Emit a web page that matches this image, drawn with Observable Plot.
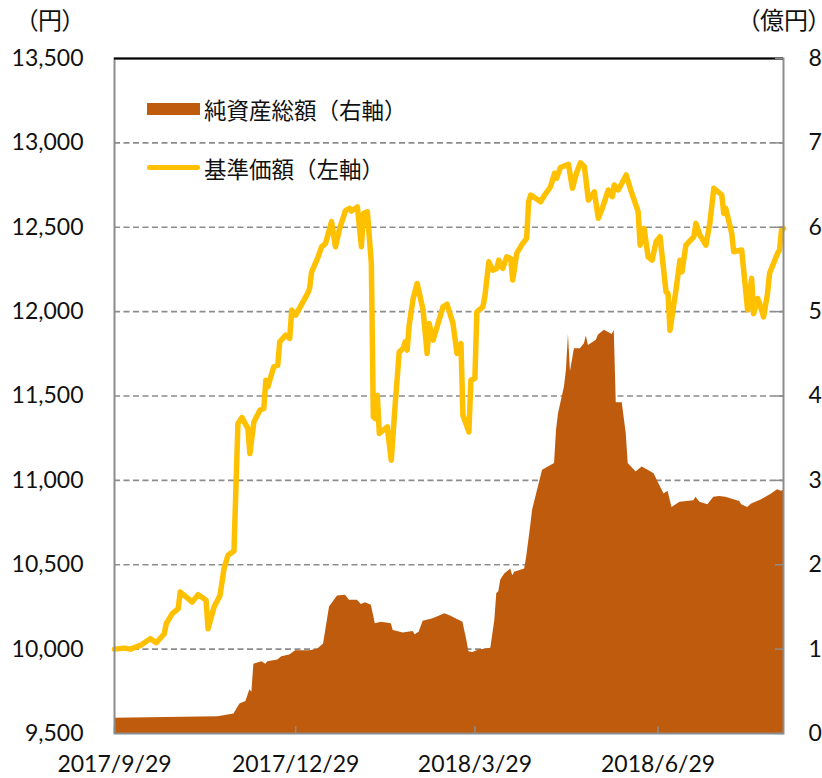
<!DOCTYPE html>
<html>
<head>
<meta charset="utf-8">
<script src="https://cdn.jsdelivr.net/npm/d3@7"></script>
<script src="https://cdn.jsdelivr.net/npm/@observablehq/plot@0.6"></script>
<style>
  html, body { margin: 0; padding: 0; background: #fff; }
  #wrap { position: relative; width: 822px; height: 778px; overflow: hidden; }
  .jp { position: absolute; font-family: "Noto Sans CJK JP", sans-serif; color: #111; white-space: nowrap; }
  .unit { font-feature-settings: "palt" 1; }
  .sw { position: absolute; }
</style>
</head>
<body>
<div id="wrap"></div>
<script>
// ---- data ----
const navDates = ["2017-09-29","2017-10-04","2017-10-07","2017-10-12","2017-10-17","2017-10-20","2017-10-24","2017-10-25","2017-10-28","2017-10-31",
"2017-11-01","2017-11-05","2017-11-07","2017-11-10","2017-11-14","2017-11-15","2017-11-18","2017-11-21","2017-11-23","2017-11-25",
"2017-11-28","2017-11-30","2017-12-02","2017-12-05","2017-12-06","2017-12-08","2017-12-11","2017-12-13","2017-12-14","2017-12-15",
"2017-12-18","2017-12-20","2017-12-21","2017-12-24","2017-12-26","2017-12-27","2017-12-29","2018-01-04","2018-01-05","2018-01-06",
"2018-01-09","2018-01-11","2018-01-13","2018-01-16","2018-01-18","2018-01-20","2018-01-23","2018-01-25","2018-01-26","2018-01-29",
"2018-01-31","2018-02-01","2018-02-03","2018-02-05","2018-02-06","2018-02-07","2018-02-08","2018-02-09","2018-02-12","2018-02-13",
"2018-02-15","2018-02-17","2018-02-19","2018-02-21","2018-02-22","2018-02-23","2018-02-24","2018-02-26","2018-02-28","2018-03-03",
"2018-03-05","2018-03-06","2018-03-08","2018-03-10","2018-03-13","2018-03-15","2018-03-18","2018-03-20","2018-03-22","2018-03-23",
"2018-03-26","2018-03-27","2018-03-29","2018-03-30","2018-04-02","2018-04-03","2018-04-05","2018-04-07","2018-04-09","2018-04-10",
"2018-04-12","2018-04-14","2018-04-16","2018-04-17","2018-04-19","2018-04-22","2018-04-24","2018-04-25","2018-04-26","2018-05-01",
"2018-05-03","2018-05-06","2018-05-08","2018-05-09","2018-05-11","2018-05-14","2018-05-15","2018-05-17","2018-05-19","2018-05-21",
"2018-05-23","2018-05-25","2018-05-28","2018-05-30","2018-06-01","2018-06-04","2018-06-06","2018-06-07","2018-06-09","2018-06-13",
"2018-06-15","2018-06-19","2018-06-20","2018-06-22","2018-06-24","2018-06-26","2018-06-28","2018-06-30","2018-07-03","2018-07-04",
"2018-07-05","2018-07-08","2018-07-10","2018-07-11","2018-07-13","2018-07-17","2018-07-18","2018-07-20","2018-07-23","2018-07-25",
"2018-07-27","2018-07-31","2018-08-01","2018-08-02","2018-08-05","2018-08-06","2018-08-10","2018-08-11","2018-08-13","2018-08-15",
"2018-08-16","2018-08-18","2018-08-19","2018-08-21","2018-08-23","2018-08-24","2018-08-28","2018-08-29","2018-08-30","2018-08-31"];
const navValues = [10000,10006,10000,10022,10062,10038,10091,10151,10210,10240,
10338,10299,10279,10323,10289,10121,10249,10318,10477,10556,
10581,11337,11372,11307,11159,11346,11416,11426,11594,11554,
11673,11683,11821,11861,11841,12009,11979,12108,12138,12236,
12315,12384,12404,12533,12384,12489,12599,12612,12596,12620,
12384,12582,12592,12286,11376,11366,11505,11278,11307,11317,
11119,11455,11761,11782,11821,11772,11920,12078,12167,12009,
11752,11930,11831,11910,12028,12044,11930,11752,11811,11386,
11287,11594,11604,11999,12028,12088,12295,12246,12256,12305,
12256,12325,12315,12187,12345,12404,12434,12651,12691,12651,
12691,12740,12820,12790,12854,12869,12873,12731,12820,12882,
12859,12661,12710,12553,12612,12721,12681,12750,12721,12810,
12731,12592,12394,12493,12325,12305,12414,12444,12117,12108,
11890,12127,12305,12236,12394,12444,12523,12454,12394,12523,
12731,12691,12582,12612,12464,12355,12365,12246,12009,12197,
11989,12078,12049,11969,12108,12227,12345,12365,12483,12493];

const assetDates = ["2017-09-29","2017-11-20","2017-11-28","2017-12-01","2017-12-04","2017-12-06","2017-12-07","2017-12-08","2017-12-12","2017-12-14",
"2017-12-15","2017-12-20","2017-12-22","2017-12-26","2017-12-29","2018-01-05","2018-01-09","2018-01-12","2018-01-15","2018-01-19",
"2018-01-23","2018-01-25","2018-01-29","2018-01-31","2018-02-02","2018-02-05","2018-02-07","2018-02-10","2018-02-15","2018-02-16",
"2018-02-21","2018-02-26","2018-02-27","2018-03-01","2018-03-03","2018-03-08","2018-03-14","2018-03-17","2018-03-23","2018-03-25",
"2018-03-26","2018-03-28","2018-03-31","2018-04-06","2018-04-08","2018-04-09","2018-04-10","2018-04-11","2018-04-13","2018-04-16",
"2018-04-17","2018-04-18","2018-04-23","2018-04-24","2018-04-26","2018-04-27","2018-04-29","2018-05-02","2018-05-08","2018-05-09",
"2018-05-10","2018-05-13","2018-05-14","2018-05-15","2018-05-16","2018-05-18","2018-05-21","2018-05-23","2018-05-24","2018-05-25",
"2018-05-29","2018-05-30","2018-06-02","2018-06-06","2018-06-07","2018-06-08","2018-06-11","2018-06-13","2018-06-14","2018-06-18",
"2018-06-19","2018-06-21","2018-06-24","2018-06-27","2018-06-29","2018-07-02","2018-07-04","2018-07-06","2018-07-10","2018-07-17",
"2018-07-18","2018-07-20","2018-07-24","2018-07-27","2018-07-30","2018-08-02","2018-08-09","2018-08-10","2018-08-13","2018-08-15",
"2018-08-20","2018-08-25","2018-08-28","2018-08-30","2018-08-31"];
const assetValues = [0.18,0.20,0.23,0.35,0.38,0.52,0.49,0.82,0.85,0.82,
0.85,0.87,0.91,0.93,0.98,0.98,1.00,1.06,1.50,1.63,
1.64,1.58,1.58,1.53,1.55,1.52,1.30,1.32,1.30,1.22,
1.19,1.21,1.17,1.20,1.33,1.36,1.42,1.39,1.32,1.10,
0.97,0.96,0.99,1.01,1.34,1.66,1.68,1.82,1.89,1.95,
1.87,1.91,1.95,2.09,2.45,2.65,2.84,3.12,3.20,3.59,
3.79,4.11,4.31,4.73,4.29,4.56,4.56,4.62,4.71,4.60,
4.66,4.72,4.78,4.73,4.78,3.92,3.92,3.56,3.20,3.10,
3.12,3.16,3.12,3.08,2.98,2.84,2.87,2.68,2.74,2.76,
2.80,2.74,2.71,2.80,2.81,2.80,2.75,2.71,2.68,2.72,
2.77,2.84,2.89,2.87,2.88];

const leftTicks = [9500,10000,10500,11000,11500,12000,12500,13000,13500];
const rightTicks = [0,1,2,3,4,5,6,7,8];
const xTickDates = ["2017-09-29","2017-12-29","2018-03-29","2018-06-29"];
const xDomain = ["2017-09-29","2018-08-31"];
const seriesNames = ["純資産総額（右軸）","基準価額（左軸）"];
const unitLeft = "（円）";
const unitRight = "（億円）";

// ---- build ----
const parse = s => new Date(s + "T00:00:00Z");
const nav = navDates.map((d,i) => ({date: parse(d), value: navValues[i]}));
const assets = assetDates.map((d,i) => ({date: parse(d), value: assetValues[i]}));
const yMin = leftTicks[0], yMax = leftTicks[leftTicks.length-1];
const rMin = rightTicks[0], rMax = rightTicks[rightTicks.length-1];
const toLeft = v => yMin + (v - rMin) * (yMax - yMin) / (rMax - rMin);
const toRight = y => rMin + (y - yMin) * (rMax - rMin) / (yMax - yMin);

const W = 822, H = 778, mT = 58, mB = 45, mL = 114, mR = 39;
const plotW = W - mL - mR, plotH = H - mT - mB;
const fmtDate = d => `${d.getUTCFullYear()}/${d.getUTCMonth()+1}/${d.getUTCDate()}`;

const chart = Plot.plot({
  width: W, height: H,
  marginTop: mT, marginBottom: mB, marginLeft: mL, marginRight: mR,
  style: {fontFamily: "Lato, sans-serif", fontSize: "23px", color: "#111", background: "#fff", overflow: "visible"},
  x: {type: "utc", domain: xDomain.map(parse)},
  y: {domain: [yMin, yMax]},
  marks: [
    Plot.gridY(leftTicks.slice(1, -1), {stroke: "#8c8c8c", strokeOpacity: 1, strokeWidth: 1.6, strokeDasharray: "6,3.5"}),
    Plot.areaY(assets, {x: "date", y1: yMin, y2: d => toLeft(d.value), fill: "#BF5B0C"}),
    Plot.lineY(nav, {x: "date", y: "value", stroke: "#FFC000", strokeWidth: 5.5, strokeLinejoin: "round", strokeLinecap: "round"}),
    Plot.frame({stroke: "#8c8c8c", strokeWidth: 2}),
    Plot.ruleY([yMax], {stroke: "#000", strokeWidth: 2.2}),
    Plot.tickY(rightTicks.map(toLeft), {y: d => d, stroke: "#8c8c8c", strokeWidth: 1.5, insetLeft: plotW - 8}),
    Plot.tickX(xTickDates.map(parse), {x: d => d, stroke: "#8c8c8c", strokeWidth: 1.5, insetTop: plotH - 7}),
    Plot.axisY(leftTicks, {anchor: "left", tickSize: 0, tickPadding: 31, tickFormat: d3.format(","), label: null}),
    Plot.axisY(rightTicks.map(toLeft), {anchor: "right", tickSize: 0, tickPadding: 25, tickFormat: d => String(Math.round(toRight(d))), label: null}),
    Plot.axisX(xTickDates.map(parse), {anchor: "bottom", tickSize: 0, tickPadding: 22, tickFormat: fmtDate, label: null})
  ]
});

const wrap = document.getElementById("wrap");
wrap.appendChild(chart);

function addText(txt, left, top, size, cls) {
  const el = document.createElement("div");
  el.className = "jp" + (cls ? " " + cls : "");
  el.textContent = txt;
  el.style.left = left + "px";
  el.style.top = top + "px";
  el.style.fontSize = size + "px";
  el.style.lineHeight = size + "px";
  wrap.appendChild(el);
}
function addSwatch(left, top, w, h, color, radius) {
  const el = document.createElement("div");
  el.className = "sw";
  Object.assign(el.style, {left: left + "px", top: top + "px", width: w + "px", height: h + "px", background: color, borderRadius: radius + "px"});
  wrap.appendChild(el);
}
addText(unitLeft, 26, 7, 24, "unit");
addText(unitRight, 748, 7, 24, "unit");
addSwatch(147, 103, 53, 12, "#BF5B0C", 0);
addText(seriesNames[0], 204, 98, 22.5);
addSwatch(147, 165, 53, 5, "#FFC000", 3);
addText(seriesNames[1], 204, 157, 22.5);
</script>
</body>
</html>
